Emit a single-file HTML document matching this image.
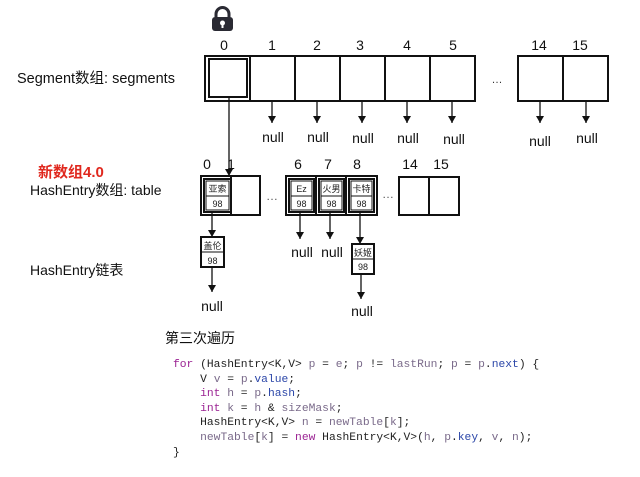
<!DOCTYPE html><html><head><meta charset="utf-8"><style>
body{margin:0;width:640px;height:477px;background:#fff;overflow:hidden;font-family:"Liberation Sans","Noto Sans CJK SC",sans-serif}
pre{position:absolute;left:173px;top:358px;margin:0;font-family:"Liberation Mono",monospace;font-size:11.3px;line-height:14.6px;color:#222}
.k{color:#9b2393}.b{color:#2b46a8}.g{color:#7a6a8a}
</style></head><body>
<svg width="640" height="477" style="position:absolute;left:0;top:0" font-family="Liberation Sans, Noto Sans CJK SC, sans-serif">
<defs><marker id="a" markerWidth="8" markerHeight="8" refX="7" refY="4" orient="auto" markerUnits="userSpaceOnUse"><path d="M0,0 L7,4 L0,8z" fill="#111"/></marker></defs>
<g font-size="14.5" fill="#111">
<text x="17" y="83">Segment数组: segments</text>
<text x="38" y="177" font-size="15" font-weight="bold" fill="#e0281e">新数组4.0</text>
<text x="30" y="195" font-size="14">HashEntry数组: table</text>
<text x="30" y="275" font-size="14">HashEntry链表</text>
<text x="165" y="343" font-size="14">第三次遍历</text>
</g>
<path d="M216,17 v-3 a6.5,6.5 0 0 1 13,0 v3" fill="none" stroke="#2a2a33" stroke-width="3"/>
<rect x="212" y="17" width="21" height="14" rx="3" fill="#2a2a33"/>
<circle cx="222.5" cy="23" r="2.5" fill="#fff"/><rect x="221.5" y="24" width="2" height="4" fill="#fff"/>
<g font-size="14" fill="#111" text-anchor="middle">
<text x="224" y="50">0</text><text x="272" y="50">1</text><text x="317" y="50">2</text><text x="360" y="50">3</text><text x="407" y="50">4</text><text x="453" y="50">5</text><text x="539" y="50">14</text><text x="580" y="50">15</text>
</g>
<g fill="none" stroke="#111" stroke-width="2">
<rect x="205" y="56" width="270" height="45"/>
<path d="M250,56v45M295,56v45M340,56v45M385,56v45M430,56v45"/>
<rect x="209" y="59" width="38" height="38"/>
<rect x="518" y="56" width="90" height="45"/><path d="M563,56v45"/>
</g>
<text x="497" y="83" font-size="11" fill="#333" text-anchor="middle">…</text>
<g stroke="#111" stroke-width="1.3" marker-end="url(#a)">
<path d="M272,102v21"/><path d="M317,102v21"/><path d="M362,102v21"/><path d="M407,102v21"/><path d="M452,102v21"/><path d="M540,102v21"/><path d="M586,102v21"/>
<path d="M229,98v78"/>
<path d="M212,212v25"/><path d="M212,268v24"/>
<path d="M300,212v27"/><path d="M330,212v27"/><path d="M360,212v32"/><path d="M361,275v24"/>
</g>
<g font-size="14" fill="#111" text-anchor="middle">
<text x="273" y="142">null</text><text x="318" y="142">null</text><text x="363" y="143">null</text><text x="408" y="143">null</text><text x="454" y="144">null</text><text x="540" y="146">null</text><text x="587" y="143">null</text>
<text x="207" y="169">0</text><text x="231" y="169">1</text><text x="298" y="169">6</text><text x="328" y="169">7</text><text x="357" y="169">8</text><text x="410" y="169">14</text><text x="441" y="169">15</text>
<text x="212" y="311">null</text><text x="302" y="257">null</text><text x="332" y="257">null</text><text x="362" y="316">null</text>
</g>
<g fill="none" stroke="#111" stroke-width="2">
<rect x="201" y="176" width="59" height="39"/><path d="M231,176v39"/>
<rect x="204" y="179" width="27" height="33"/>
<rect x="286" y="176" width="91" height="39"/><path d="M316,176v39M346,176v39"/>
<rect x="289" y="179" width="25" height="33"/><rect x="319" y="179" width="25" height="33"/><rect x="349" y="179" width="25" height="33"/>
<rect x="399" y="177" width="60" height="38"/><path d="M429,177v38"/>
<rect x="201" y="237" width="23" height="30"/><rect x="352" y="244" width="22" height="30"/>
</g>
<g fill="none" stroke="#111" stroke-width="1">
<rect x="206" y="181" width="23" height="15"/><rect x="206" y="196" width="23" height="14"/>
<rect x="291" y="181" width="21" height="15"/><rect x="291" y="196" width="21" height="14"/>
<rect x="321" y="181" width="21" height="15"/><rect x="321" y="196" width="21" height="14"/>
<rect x="351" y="181" width="21" height="15"/><rect x="351" y="196" width="21" height="14"/>
<path d="M201,252h23M352,259h22"/>
</g>
<g font-size="9" fill="#222" text-anchor="middle">
<text x="217.5" y="192">亚索</text><text x="217.5" y="207">98</text>
<text x="301.5" y="192">Ez</text><text x="301.5" y="207">98</text>
<text x="331.5" y="192">火男</text><text x="331.5" y="207">98</text>
<text x="361.5" y="192">卡特</text><text x="361.5" y="207">98</text>
<text x="212.5" y="249">盖伦</text><text x="212.5" y="264">98</text>
<text x="363" y="256">妖姬</text><text x="363" y="270">98</text>
</g>
<g font-size="12" fill="#555" text-anchor="middle"><text x="272" y="200">…</text><text x="388" y="198">…</text></g>
</svg>
<pre><span class="k">for</span> (HashEntry&lt;K,V&gt; <span class="g">p</span> = <span class="g">e</span>; <span class="g">p</span> != <span class="g">lastRun</span>; <span class="g">p</span> = <span class="g">p</span>.<span class="b">next</span>) {
    V <span class="g">v</span> = <span class="g">p</span>.<span class="b">value</span>;
    <span class="k">int</span> <span class="g">h</span> = <span class="g">p</span>.<span class="b">hash</span>;
    <span class="k">int</span> <span class="g">k</span> = <span class="g">h</span> &amp; <span class="g">sizeMask</span>;
    HashEntry&lt;K,V&gt; <span class="g">n</span> = <span class="g">newTable</span>[<span class="g">k</span>];
    <span class="g">newTable</span>[<span class="g">k</span>] = <span class="k">new</span> HashEntry&lt;K,V&gt;(<span class="g">h</span>, <span class="g">p</span>.<span class="b">key</span>, <span class="g">v</span>, <span class="g">n</span>);
}</pre>
</body></html>
